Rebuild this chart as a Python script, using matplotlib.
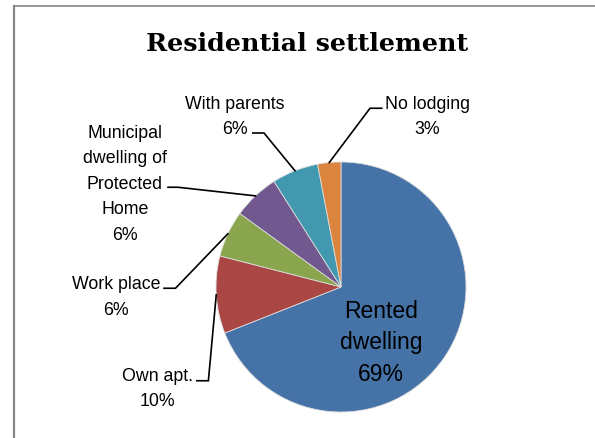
import numpy as np
import matplotlib
matplotlib.use('Agg')
import matplotlib.pyplot as plt
from matplotlib.lines import Line2D

# data
labels = ['Rented\ndwelling', 'Own apt.', 'Work place',
          'Municipal\ndwelling of\nProtected\nHome', 'With parents', 'No lodging']
shares = [69, 10, 6, 6, 6, 3]
colors = ['#4572A7', '#AA4643', '#89A54E', '#71588F', '#4198AF', '#DB843D']

# label layout (pie radius = 1, centre at 0,0)
text_pos = [(0.32, -0.44), (-1.47, -0.81), (-1.80, -0.075),
            (-1.73, 0.83), (-0.85, 1.37), (0.69, 1.37)]
# start of leader (at the label) and its horizontal length
lead_start = [None, (-1.154, -0.75), (-1.416, -0.01),
              (-1.384, 0.798), (-0.706, 1.232), (0.326, 1.43)]
lead_dx = [0, 0.093, 0.092, 0.08, 0.09, -0.094]

plt.rcParams['font.family'] = ['Liberation Sans', 'DejaVu Sans']

fig = plt.figure(figsize=(5.95, 4.39), dpi=100)
ax = fig.add_axes([0, 0, 1, 1])

wedges, _ = ax.pie(shares, colors=colors, startangle=90, counterclock=False,
                   radius=1, wedgeprops=dict(edgecolor='#dcdcdc', linewidth=0.6))

for i, w in enumerate(wedges):
    txt = labels[i] + '\n' + str(shares[i]) + '%'
    if i == 0:
        ax.text(*text_pos[i], txt, ha='center', va='center', fontsize=16.5,
                linespacing=1.45, color='black')
        continue
    ax.text(*text_pos[i], txt, ha='center', va='center', fontsize=12.8,
            linespacing=1.65, color='black')
    mid = np.deg2rad((w.theta1 + w.theta2) / 2)
    x0, y0 = lead_start[i]
    x1 = x0 + lead_dx[i]
    ax.plot([x0, x1, np.cos(mid)], [y0, y0, np.sin(mid)],
            color='black', lw=1.2, solid_joinstyle='miter')

ax.set_xlim(-341 / 125, (595 - 341) / 125)
ax.set_ylim((288 - 439) / 125, 288 / 125)
ax.set_aspect('equal')
ax.axis('off')

fig.text(307 / 595, 1 - 51 / 439, 'Residential settlement', ha='center',
         va='baseline', fontsize=18.3, fontweight='bold',
         family=['DejaVu Serif'])

# chart frame (cut off at right and bottom)
fig.add_artist(Line2D([13.5 / 595, 13.5 / 595], [0, 1 - 6.5 / 439],
                      transform=fig.transFigure, color='#878787', lw=1.6))
fig.add_artist(Line2D([13.5 / 595, 1], [1 - 6.5 / 439, 1 - 6.5 / 439],
                      transform=fig.transFigure, color='#878787', lw=1.2))

fig.savefig('out.png', dpi=100)
